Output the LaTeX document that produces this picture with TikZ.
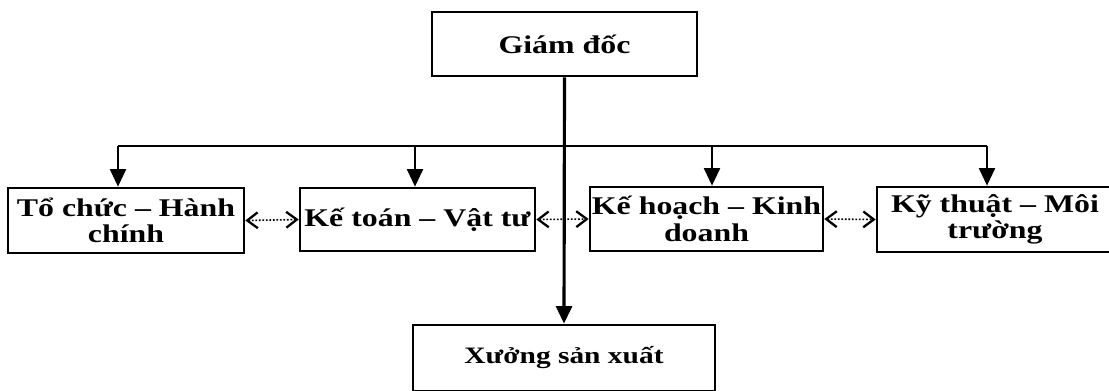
\documentclass[tikz,border=0pt]{standalone}
\usepackage{fontspec}
\setmainfont{Liberation Serif}[FakeStretch=1.25]
\usetikzlibrary{arrows.meta}

\begin{document}
\begin{tikzpicture}[x=0.02cm,y=-0.02cm,
    box/.style={draw,line width=1.5pt,inner sep=0pt,align=center,
      font=\fontsize{14.5}{15}\selectfont\bfseries},
    down/.style={line width=1.5pt,-{Triangle[length=10pt,width=9pt]}},
    link/.style={dash pattern=on 1pt off 1pt,line width=0.9pt,
      {Straight Barb[length=6pt,width=9pt,line width=1.3pt]}-{Straight Barb[length=6pt,width=9pt,line width=1.3pt]}}]
  \useasboundingbox (0,0) rectangle (1109,390);
  % boxes
  \node [box,minimum width=5.3cm,minimum height=1.28cm] (gd) at (564.5,44) {Giám đốc};
  \node [box,minimum width=4.72cm,minimum height=1.3cm] (tc) at (126,220.5) {Tổ chức – Hành\\chính};
  \node [box,minimum width=4.7cm,minimum height=1.26cm] (kt) at (417.5,219.5) {Kế toán – Vật tư};
  \node [box,minimum width=4.66cm,minimum height=1.28cm] (kh) at (706.5,219) {Kế hoạch – Kinh\\doanh};
  \node [box,minimum width=4.72cm,minimum height=1.3cm] (ky) at (995,219.5) {Kỹ thuật – Môi\\trường};
  \node [box,minimum width=6.04cm,minimum height=1.32cm,font=\fontsize{13.4}{15}\selectfont\bfseries] (xs) at (564,358) {Xưởng sản xuất};
  % bus
  \coordinate (b1) at (118,146);
  \coordinate (b2) at (415,146);
  \coordinate (b3) at (712,146);
  \coordinate (b4) at (987,146);
  \draw [line width=1.5pt] (b1) -- (b4);
  \draw [down] (b1) -- (b1 |- tc.north);
  \draw [down] (b2) -- (b2 |- kt.north);
  \draw [down] (b3) -- (b3 |- kh.north);
  \draw [down] (b4) -- (b4 |- ky.north);
  \draw [down,line width=1.8pt] (gd.south) -- (xs.north);
  % links
  \draw [link] (tc.east) -- (kt.west);
  \draw [link] (kt.east) -- (kh.west);
  \draw [link] (kh.east) -- (ky.west);
\end{tikzpicture}
\end{document}
